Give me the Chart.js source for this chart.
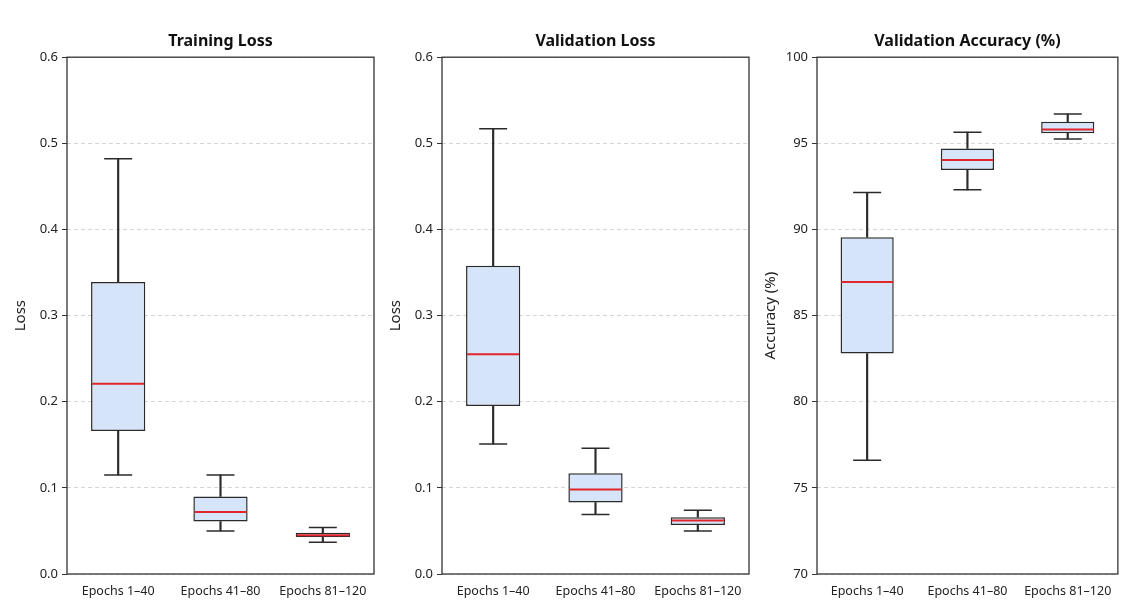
<!DOCTYPE html>
<html>
<head>
<meta charset="utf-8">
<script src="https://cdn.jsdelivr.net/npm/chart.js@4.4.1/dist/chart.umd.min.js"></script>
<style>
    html, body { margin: 0; padding: 0; background: #fff; }
    body { width: 1122px; height: 615px; position: relative; overflow: hidden; }
    .panel { position: absolute; top: 0; height: 615px; }
</style>
</head>
<body>
<div class="panel" style="left:0px;width:380px"><canvas id="trainChart"></canvas></div>
<div class="panel" style="left:375px;width:380px"><canvas id="valLossChart"></canvas></div>
<div class="panel" style="left:750px;width:372px"><canvas id="valAccChart"></canvas></div>
<script>
// categories (epoch windows)
const categories = ['Epochs 1\u201340', 'Epochs 41\u201380', 'Epochs 81\u2013120'];

// Training loss box stats
const trainMin = [0.115, 0.050, 0.037];
const trainQ1  = [0.166, 0.061, 0.043];
const trainMed = [0.221, 0.072, 0.045];
const trainQ3  = [0.339, 0.090, 0.048];
const trainMax = [0.482, 0.115, 0.054];

// Validation loss box stats
const valLossMin = [0.151, 0.069, 0.050];
const valLossQ1  = [0.195, 0.083, 0.057];
const valLossMed = [0.255, 0.098, 0.062];
const valLossQ3  = [0.358, 0.117, 0.066];
const valLossMax = [0.517, 0.146, 0.074];

// Validation accuracy box stats (%)
const valAccMin = [76.6, 92.3, 95.25];
const valAccQ1  = [82.8, 93.45, 95.58];
const valAccMed = [86.95, 94.03, 95.8];
const valAccQ3  = [89.55, 94.7, 96.25];
const valAccMax = [92.15, 95.65, 96.7];

Chart.defaults.font.family = "'Noto Sans', 'DejaVu Sans', sans-serif";
Chart.defaults.color = '#222';

const boxFill = '#d5e4f8';
const edgeColor = '#2b2b2b';
const medianColor = '#e0262b';

// frame round the plot area (all four sides, like the original)
const frameBox = {
    id: 'frameBox',
    afterDraw(chart) {
        const a = chart.chartArea;
        const ctx = chart.ctx;
        ctx.save();
        ctx.strokeStyle = '#333';
        ctx.lineWidth = 1.3;
        ctx.strokeRect(a.left, a.top, a.right - a.left, a.bottom - a.top);
        ctx.restore();
    }
};

function buildDatasets(mins, q1s, meds, q3s, maxs) {
    return [
        {   // median line
            type: 'line', data: meds, showLine: false,
            pointStyle: 'line', pointRadius: 26, pointHoverRadius: 26,
            pointBorderColor: medianColor, pointBorderWidth: 2, order: 0
        },
        {   // box q1 -> q3
            type: 'bar', data: q1s.map((q, i) => [q, q3s[i]]),
            backgroundColor: boxFill, borderColor: edgeColor, borderWidth: 1.5,
            borderSkipped: false, barPercentage: 0.53, categoryPercentage: 1,
            grouped: false, order: 1
        },
        {   // upper whisker
            type: 'bar', data: q3s.map((q, i) => [q, maxs[i]]),
            backgroundColor: edgeColor, barThickness: 1.5, grouped: false, order: 2
        },
        {   // lower whisker
            type: 'bar', data: mins.map((m, i) => [m, q1s[i]]),
            backgroundColor: edgeColor, barThickness: 1.5, grouped: false, order: 2
        },
        {   // caps
            type: 'line', data: maxs, showLine: false,
            pointStyle: 'line', pointRadius: 14, pointHoverRadius: 14,
            pointBorderColor: edgeColor, pointBorderWidth: 1.5, order: 2
        },
        {
            type: 'line', data: mins, showLine: false,
            pointStyle: 'line', pointRadius: 14, pointHoverRadius: 14,
            pointBorderColor: edgeColor, pointBorderWidth: 1.5, order: 2
        }
    ];
}

function makeBoxChart(canvasId, title, yTitle, yMin, yMax, yStep, digits, stats, padRight) {
    return new Chart(document.getElementById(canvasId), {
        type: 'bar',
        data: {
            labels: categories,
            datasets: buildDatasets(...stats)
        },
        options: {
            responsive: true,
            maintainAspectRatio: false,
            animation: false,
            layout: {
                autoPadding: false,
                padding: { top: 32, left: 12, right: padRight, bottom: 0 }
            },
            plugins: {
                legend: { display: false },
                tooltip: { enabled: false },
                title: {
                    display: true,
                    text: title,
                    fullSize: false,
                    color: '#111',
                    font: { size: 16, weight: 'bold' },
                    padding: { top: 0, bottom: 6 }
                }
            },
            scales: {
                x: {
                    grid: { display: false, drawTicks: false },
                    border: { display: false },
                    ticks: { color: '#222', font: { size: 12.5 }, padding: 10, maxRotation: 0 },
                    afterFit(scale) { scale.height = 41; }
                },
                y: {
                    min: yMin,
                    max: yMax,
                    ticks: {
                        stepSize: yStep,
                        color: '#222',
                        font: { size: 13 },
                        padding: 4,
                        callback: v => Number(v).toFixed(digits)
                    },
                    grid: {
                        color: '#cccccc',
                        lineWidth: 0.8,
                        tickColor: '#333',
                        tickLength: 5,
                        tickWidth: 1,
                        tickBorderDash: []
                    },
                    border: { display: false, dash: [4, 3] },
                    title: {
                        display: true,
                        text: yTitle,
                        color: '#222',
                        font: { size: 15 },
                        padding: { top: 0, bottom: 0 }
                    },
                    afterFit(scale) { scale.width = 55; }
                }
            }
        },
        plugins: [frameBox]
    });
}

makeBoxChart('trainChart', 'Training Loss', 'Loss', 0, 0.6, 0.1, 1,
    [trainMin, trainQ1, trainMed, trainQ3, trainMax], 6);
makeBoxChart('valLossChart', 'Validation Loss', 'Loss', 0, 0.6, 0.1, 1,
    [valLossMin, valLossQ1, valLossMed, valLossQ3, valLossMax], 6);
makeBoxChart('valAccChart', 'Validation Accuracy (%)', 'Accuracy (%)', 70, 100, 5, 0,
    [valAccMin, valAccQ1, valAccMed, valAccQ3, valAccMax], 1);
</script>
</body>
</html>
